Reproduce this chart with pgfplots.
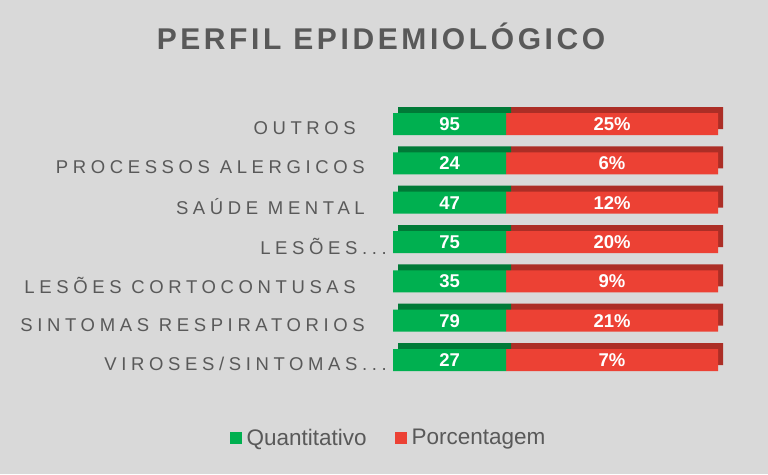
\documentclass[border=0pt]{standalone}
\usepackage{fontspec}
\setmainfont{Liberation Sans}
\newfontfamily\lblfont[LetterSpace=25]{Liberation Sans}
\newfontfamily\titlefont[LetterSpace=12]{Liberation Sans}
\usepackage{pgfplots}
\usepackage{pgfplotstable}
\pgfplotsset{compat=1.18}

\definecolor{bg}{RGB}{217,217,217}
\definecolor{txtgray}{RGB}{89,89,89}
\definecolor{qgreen}{RGB}{0,176,80}
\definecolor{qgreendk}{RGB}{0,122,55}
\definecolor{pred}{RGB}{236,65,52}
\definecolor{preddk}{RGB}{172,46,38}
\newcommand{\tdots}{...}

% widths of the two segments as drawn (same in every row), their middles,
% and the values shown as labels
\pgfplotstableread{
y gw rw gm rm qt pc
7 34.8 65.2 17.4 67.4 95 25
6 34.8 65.2 17.4 67.4 24 6
5 34.8 65.2 17.4 67.4 47 12
4 34.8 65.2 17.4 67.4 75 20
3 34.8 65.2 17.4 67.4 35 9
2 34.8 65.2 17.4 67.4 79 21
1 34.8 65.2 17.4 67.4 27 7
}\epidata

\begin{document}
\begin{tikzpicture}
\useasboundingbox (0pt,0pt) rectangle (768pt,474pt);
\fill[bg] (0pt,0pt) rectangle (768pt,474pt);

\node[anchor=base, text=txtgray, font=\titlefont\bfseries\fontsize{30}{32}\selectfont]
  at (381pt,424.7pt) {PERFIL EPIDEMIOLÓGICO};

% back axis: darker faces for the 3D look
\begin{axis}[
  at={(398pt,100.33pt)}, anchor=south west,
  scale only axis, width=325pt, height=275.33pt,
  xmin=0, xmax=100, ymin=0.5, ymax=7.5,
  hide axis,
  xbar stacked, bar width=22pt,
]
\addplot[fill=qgreendk, draw=none] table[x=gw, y=y] {\epidata};
\addplot[fill=preddk, draw=none] table[x=rw, y=y] {\epidata};
\end{axis}

% front axis
\begin{axis}[
  at={(393pt,94.33pt)}, anchor=south west,
  scale only axis, width=325pt, height=275.33pt,
  xmin=0, xmax=100, ymin=0.5, ymax=7.5,
  hide x axis,
  axis y line*=left,
  y axis line style={draw=none},
  ytick style={draw=none},
  ytick={1,2,3,4,5,6,7},
  yticklabels={{VIROSES/SINTOMAS\tdots\kern3pt},
               {SINTOMAS RESPIRATORIOS\kern25pt},
               {LESÕES CORTOCONTUSAS\kern34pt},
               {LESÕES\tdots\kern3pt},
               {SAÚDE MENTAL\kern25pt},
               {PROCESSOS ALERGICOS\kern25pt},
               {OUTROS\kern34pt}},
  yticklabel style={anchor=east, inner sep=0pt, xshift=-3pt, yshift=-4pt,
                    text=txtgray, font=\lblfont\fontsize{18.5}{20}\selectfont},
  xbar stacked, bar width=22pt,
  legend columns=2,
  legend style={at={(-0.017,-0.2108)}, anchor=center, draw=none, fill=none,
                font=\fontsize{22.5}{24}\selectfont, text=txtgray,
                nodes={inner sep=0pt},
                /tikz/every odd column/.append style={column sep=5pt},
                /tikz/every even column/.append style={column sep=28pt},
                inner sep=0pt},
  legend image code/.code={\fill[#1] (0pt,-6pt) rectangle (12pt,6pt);},
]
\addplot[fill=qgreen, draw=none] table[x=gw, y=y] {\epidata};
\addlegendentry{Quantitativo}
\addplot[fill=pred, draw=none] table[x=rw, y=y] {\epidata};
\addlegendentry{Porcentagem}
\end{axis}

% value labels in the middle of each segment
\begin{axis}[
  at={(393pt,94.33pt)}, anchor=south west,
  scale only axis, width=325pt, height=275.33pt,
  xmin=0, xmax=100, ymin=0.5, ymax=7.5,
  hide axis,
  point meta=explicit symbolic,
  nodes near coords style={anchor=center, inner sep=0pt, text=white,
                           font=\bfseries\fontsize{18.5}{20}\selectfont},
]
\addplot[draw=none, mark=none, nodes near coords={\pgfplotspointmeta}]
  table[x=gm, y=y, meta=qt] {\epidata};
\addplot[draw=none, mark=none, nodes near coords={\pgfplotspointmeta\%}]
  table[x=rm, y=y, meta=pc] {\epidata};
\end{axis}
\end{tikzpicture}
\end{document}
